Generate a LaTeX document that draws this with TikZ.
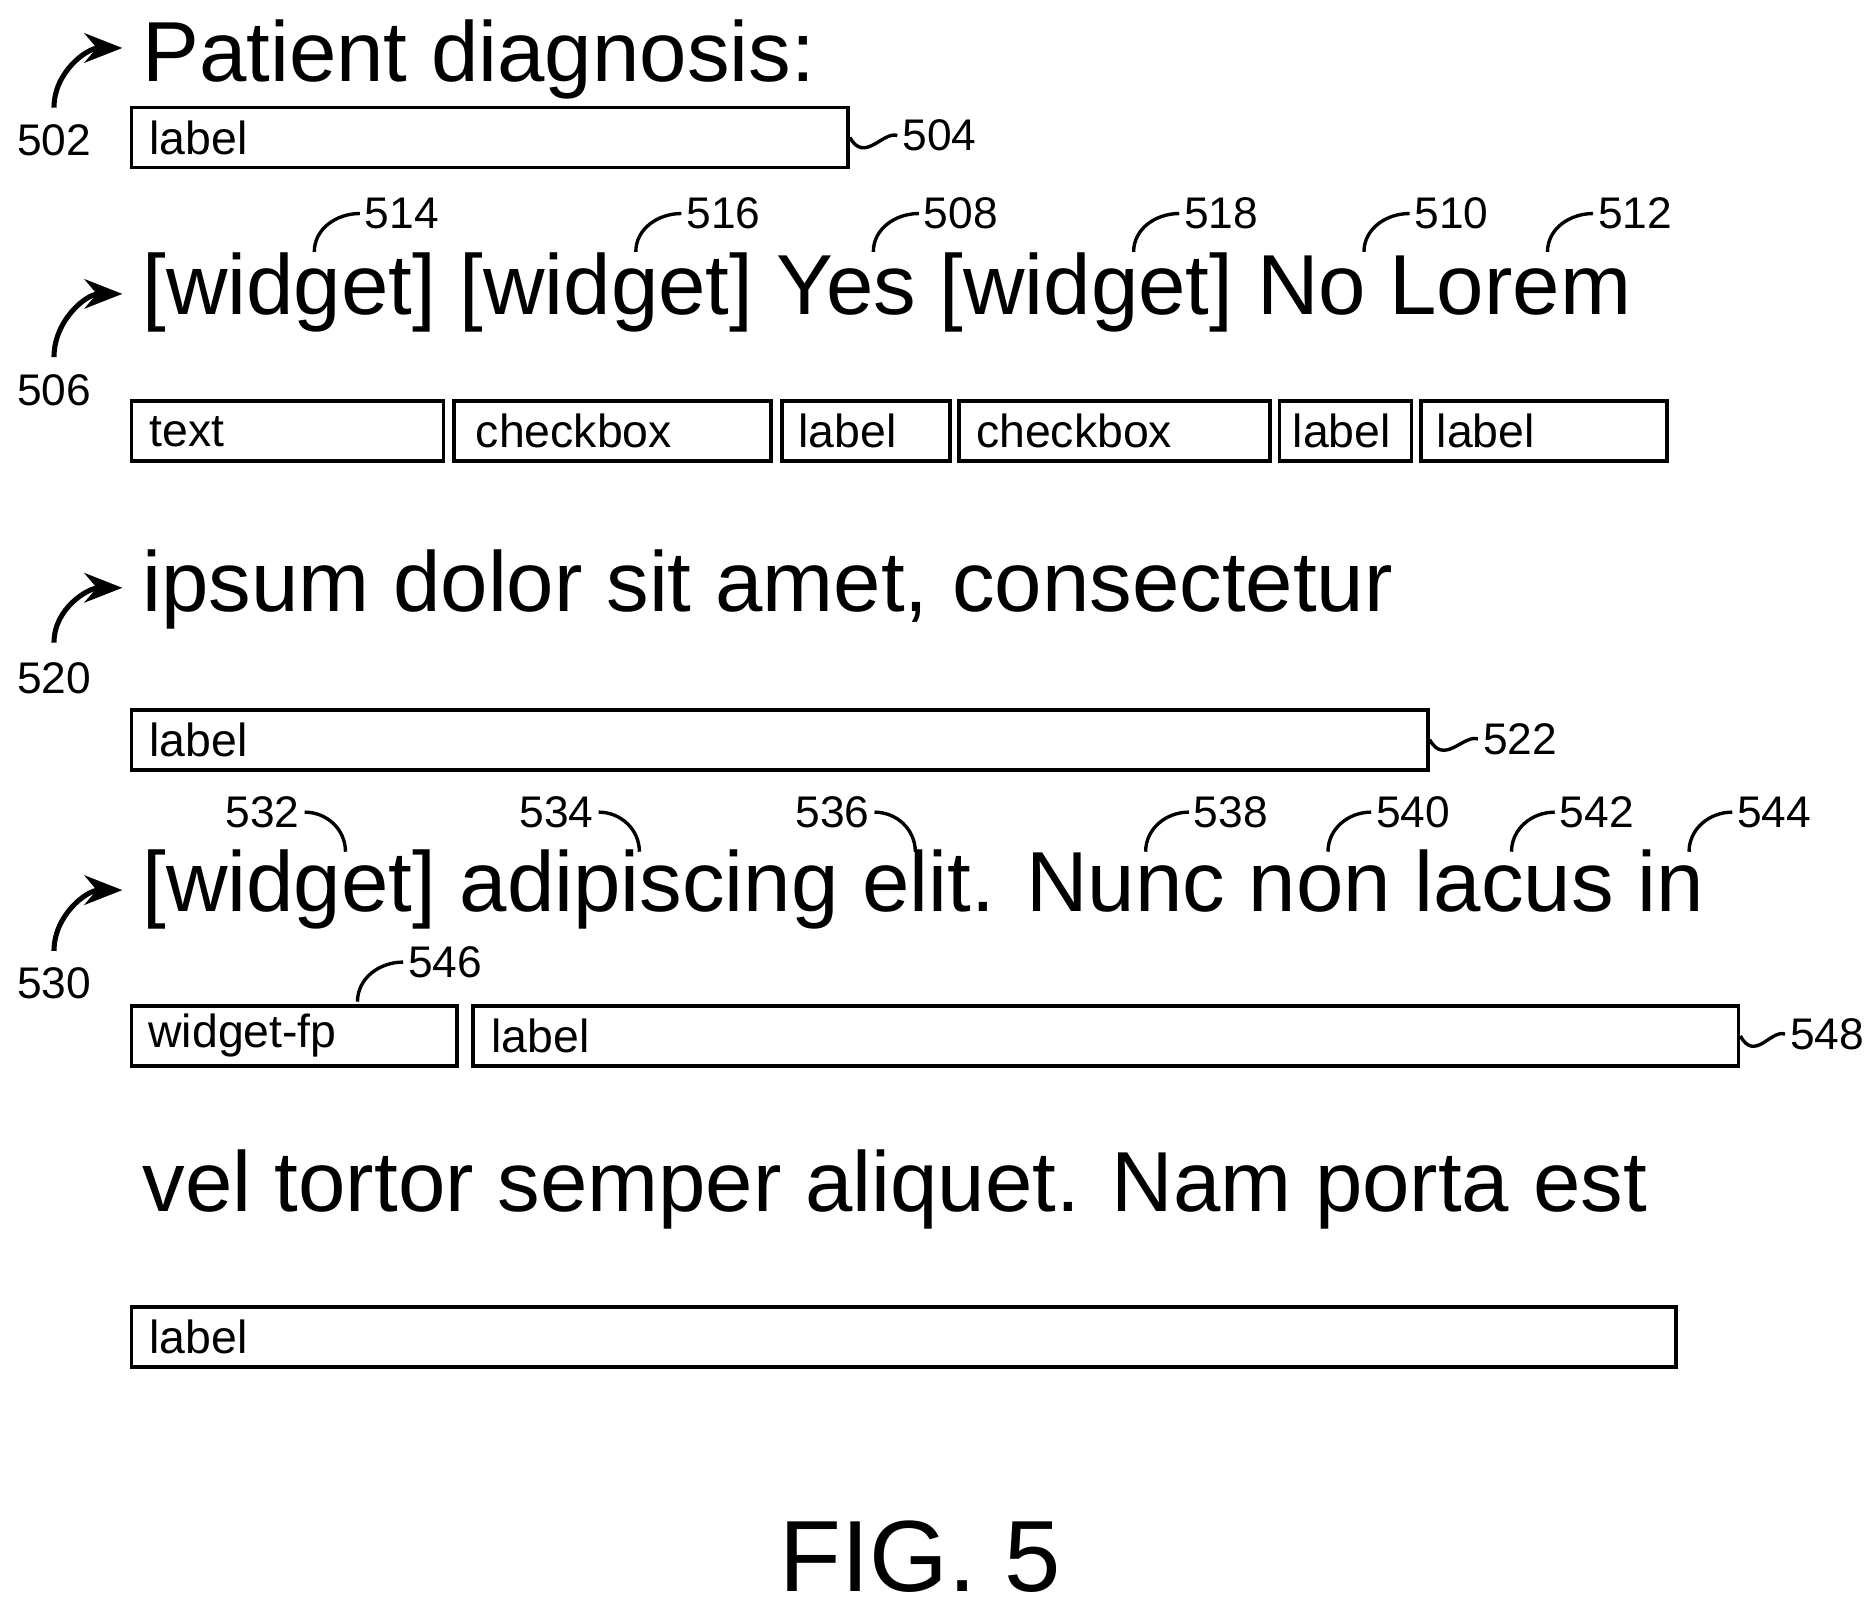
\documentclass[tikz,border=0pt]{standalone}
\usepackage{fontspec}
\setmainfont{Liberation Sans}
\usetikzlibrary{arrows.meta,positioning}
\begin{document}
\begin{tikzpicture}[x=0.01cm, y=-0.01cm,
    big/.style={anchor=base west, inner sep=0pt, font=\fontsize{20.2}{24}\selectfont},
    fbox/.style={draw, line width=0.9pt, anchor=north west, minimum height=0.5cm, inner sep=0pt},
    boxtxt/.style={anchor=west, inner sep=0pt, font=\fontsize{11}{13}\selectfont},
    num/.style={inner sep=1pt, font=\fontsize{10.5}{12}\selectfont},
    arr/.style={-{Stealth[length=9pt,width=7pt]}, line width=1.2pt},
    lead/.style={line width=0.8pt}]
    \useasboundingbox (0,0) rectangle (1563,1343);

    % Row 1
    \node[big] (t1) at (118,68) {Patient diagnosis:};
    \node[fbox, minimum width=5.97cm] (b504) at (108,88) {};
    \node[boxtxt] at ([xshift=0.16cm]b504.west) {label};
    \node[num, anchor=west] (n504) at (748,113) {504};
    \node[num] (n502) at (45,117) {502};
    \coordinate (a502) at (102,40);
    \draw[arr] (n502.north) ++(0,-10) to[out=90,in=180] (a502);
    \draw[lead] (b504.east) .. controls +(12,22) and +(-12,-4) .. (n504.west);

    % Row 2
    \node[big] (t2) at (118,262) {[widget] [widget] Yes [widget] No Lorem};
    \node[fbox, minimum width=2.60cm] (b2a) at (108,333) {};
    \node[fbox, minimum width=2.64cm] (b2b) at (377,333) {};
    \node[fbox, minimum width=1.40cm] (b2c) at (650,333) {};
    \node[fbox, minimum width=2.59cm] (b2d) at (798,333) {};
    \node[fbox, minimum width=1.10cm] (b2e) at (1065,333) {};
    \node[fbox, minimum width=2.05cm] (b2f) at (1183,333) {};
    \node[boxtxt] at ([xshift=0.16cm]b2a.west) {text};
    \node[boxtxt] at ([xshift=0.19cm]b2b.west) {checkbox};
    \node[boxtxt] at ([xshift=0.15cm]b2c.west) {label};
    \node[boxtxt] at ([xshift=0.15cm]b2d.west) {checkbox};
    \node[boxtxt] at ([xshift=0.12cm]b2e.west) {label};
    \node[boxtxt] at ([xshift=0.14cm]b2f.west) {label};
    \node[num] (n506) at (45,325) {506};
    \coordinate (a506) at (102,245);
    \draw[arr] (n506.north) ++(0,-10) to[out=90,in=180] (a506);
    \foreach \n/\x in {514/262, 516/530, 508/728, 518/945, 510/1137, 512/1290} {
        \node[num, anchor=west] (n\n) at (\x+38,178) {\n};
        \draw[lead] (n\n.west) to[out=180,in=90] ++(-38,32);
    }

    % Row 3
    \node[big] (t3) at (118,510) {ipsum dolor sit amet, consectetur};
    \node[fbox, minimum width=10.80cm] (b522) at (108,590) {};
    \node[boxtxt] at ([xshift=0.16cm]b522.west) {label};
    \node[num, anchor=west] (n522) at (1232,616) {522};
    \draw[lead] (b522.east) .. controls +(12,22) and +(-12,-4) .. (n522.west);
    \node[num] (n520) at (45,565) {520};
    \coordinate (a520) at (102,490);
    \draw[arr] (n520.north) ++(0,-12) to[out=90,in=180] (a520);

    % Row 4
    \node[big] (t4) at (118,760) {[widget] adipiscing elit. Nunc non lacus in};
    \foreach \n/\x in {532/288, 534/533, 536/763} {
        \node[num, anchor=east] (n\n) at (\x-34,677) {\n};
        \draw[lead] (n\n.east) to[out=0,in=90] ++(34,33);
    }
    \foreach \n/\x in {538/955, 540/1107, 542/1260, 544/1408} {
        \node[num, anchor=west] (n\n) at (\x+36,677) {\n};
        \draw[lead] (n\n.west) to[out=180,in=90] ++(-36,33);
    }
    \node[num] (n530) at (45,820) {530};
    \coordinate (a530) at (102,742);
    \draw[arr] (n530.north) ++(0,-10) to[out=90,in=180] (a530);
    \node[fbox, minimum width=2.71cm] (b546) at (108,837) {};
    \node[fbox, minimum width=10.54cm] (b548) at (393,837) {};
    \node[boxtxt] at ([xshift=0.15cm]b546.west) {widget-fp};
    \node[boxtxt] at ([xshift=0.16cm]b548.west) {label};
    \node[num, anchor=west] (n546) at (336,802) {546};
    \draw[lead] (n546.west) to[out=180,in=90] (298,835);
    \node[num, anchor=west] (n548) at (1488,862) {548};
    \draw[lead] (b548.east) .. controls +(12,22) and +(-12,-4) .. (n548.west);

    % Row 5
    \node[big] (t5) at (118,1010) {vel tortor semper aliquet. Nam porta est};
    \node[fbox, minimum width=12.87cm] (b5) at (108,1088) {};
    \node[boxtxt] at ([xshift=0.16cm]b5.west) {label};

    % Caption
    \node[font=\fontsize{24}{28}\selectfont] (fig) at (767,1298) {FIG. 5};
\end{tikzpicture}
\end{document}
